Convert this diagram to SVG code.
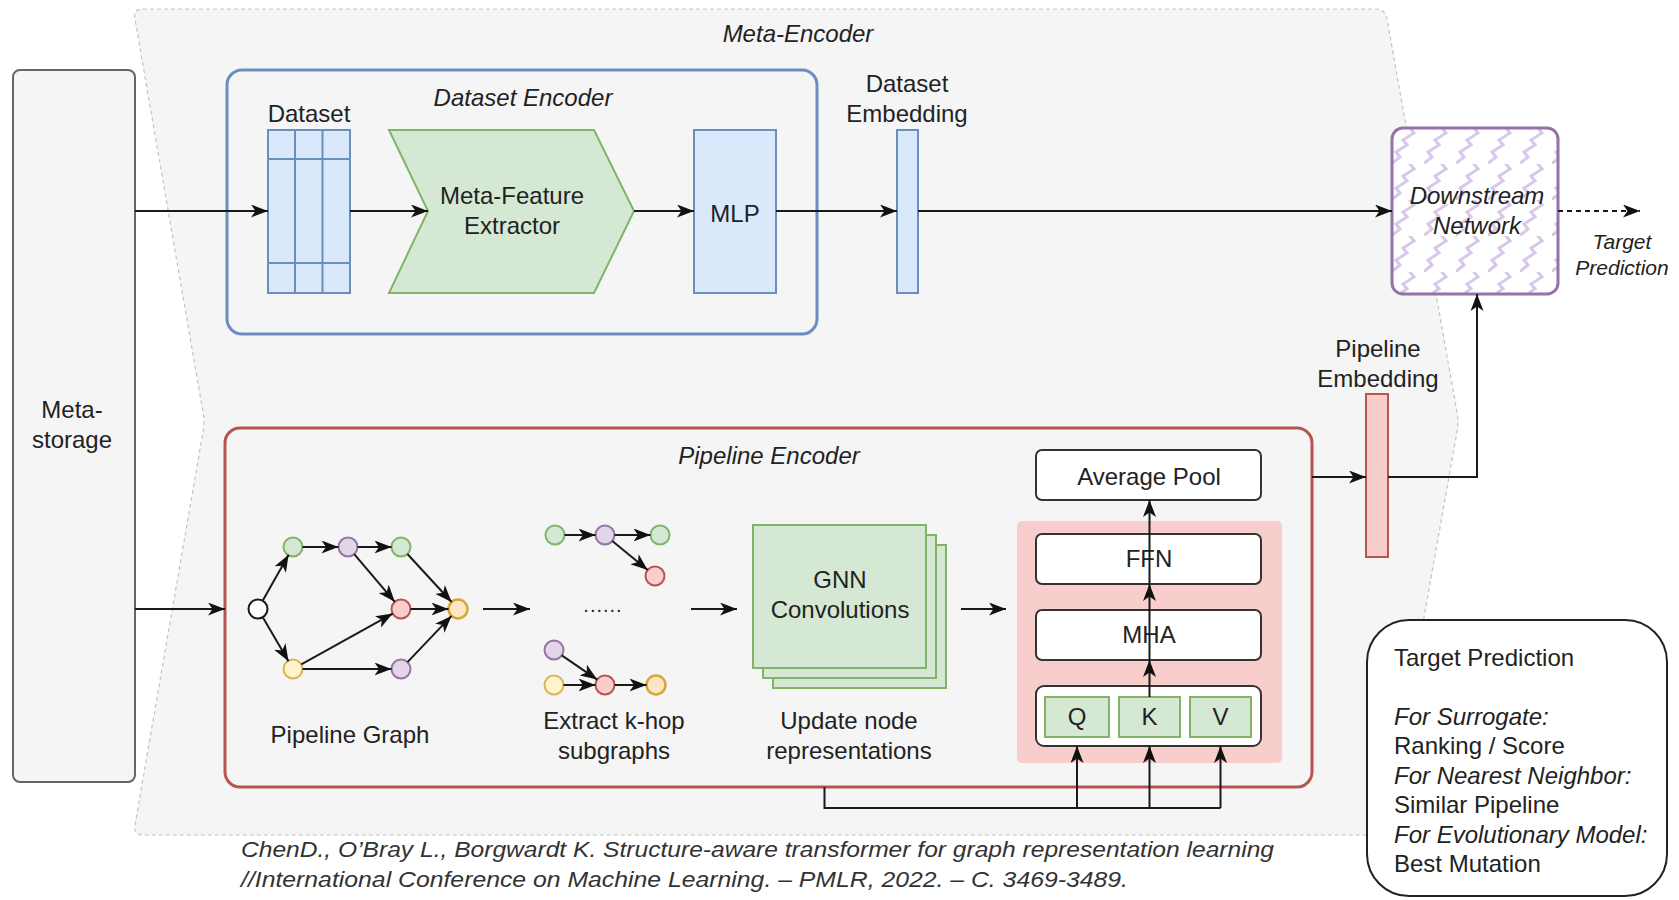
<svg xmlns="http://www.w3.org/2000/svg" width="1679" height="900" viewBox="0 0 1679 900">
<defs>
<style>
text{font-family:"Liberation Sans",Arial,sans-serif;font-size:24px;fill:#222}
.it{font-style:italic}
.mid{text-anchor:middle}
.ln{fill:none;stroke:#1a1a1a;stroke-width:2}
.arr{fill:none;stroke:#1a1a1a;stroke-width:2;marker-end:url(#ah)}
.blue{fill:#dae8fc;stroke:#6c8ebf;stroke-width:2}
.green{fill:#d5e8d4;stroke:#82b366;stroke-width:2}
.red{fill:#f8cecc;stroke:#b85450;stroke-width:2}
.purple{fill:#e1d5e7;stroke:#9673a6;stroke-width:2}
.yellow{fill:#fff2cc;stroke:#d6b656;stroke-width:2}
.endn{fill:#fde6c4;stroke:#d6a63a;stroke-width:2.5}
.whiten{fill:#ffffff;stroke:#1a1a1a;stroke-width:2}
.box{fill:#ffffff;stroke:#333333;stroke-width:2}
</style>
<marker id="ah" markerUnits="userSpaceOnUse" markerWidth="18" markerHeight="13" refX="17" refY="6.5" orient="auto">
<path d="M0,0 L17,6.5 L0,13 L4.5,6.5 Z" fill="#111"/>
</marker>
<pattern id="zz" patternUnits="userSpaceOnUse" width="32" height="36" x="1392" y="128">
<rect width="32" height="36" fill="#ffffff"/>
<path d="M-2,37 L8,29 L4,24 L15,17 L11,12 L22,5 L18,0 L26,-4" fill="none" stroke="#d9c7e8" stroke-width="3"/>
</pattern>
</defs>

<g id="meta-encoder">
<path d="M143,9 H1375 Q1385,9 1387,19 L1457,412 Q1459,422 1457,432 L1387,825 Q1385,835 1375,835 H143 Q133,835 135,825 L203,432 Q205,422 203,412 L135,19 Q133,9 143,9 Z" fill="#f5f5f5" stroke="#c4c4c4" stroke-width="1.2" stroke-dasharray="4,3"/>
<text class="it mid" x="798" y="42">Meta-Encoder</text>
</g>

<g id="meta-storage">
<rect x="13" y="70" width="122" height="712" rx="7" fill="#f5f5f5" stroke="#666666" stroke-width="2"/>
<text class="mid" x="72" y="418" fill="#333">Meta-</text>
<text class="mid" x="72" y="448">storage</text>
</g>

<g id="dataset-encoder">
<rect x="227" y="70" width="590" height="264" rx="15" fill="#f5f5f5" stroke="#6c8ebf" stroke-width="3"/>
<text class="it mid" x="523" y="106">Dataset Encoder</text>
</g>

<g id="dataset">
<text class="mid" x="309" y="122">Dataset</text>
<rect class="blue" x="268" y="130" width="82" height="163"/>
<path d="M295,130 V293 M322.5,130 V293 M268,159 H350 M268,263 H350" fill="none" stroke="#6c8ebf" stroke-width="2"/>
</g>

<g id="meta-feature-extractor">
<path class="green" d="M389,130 H594 L634,211 L594,293 H389 L428,211 Z"/>
<text class="mid" x="512" y="204">Meta-Feature</text>
<text class="mid" x="512" y="234">Extractor</text>
</g>

<g id="mlp">
<rect class="blue" x="694" y="130" width="82" height="163"/>
<text class="mid" x="735" y="222">MLP</text>
</g>

<g id="dataset-embedding">
<text class="mid" x="907" y="92">Dataset</text>
<text class="mid" x="907" y="122">Embedding</text>
<rect class="blue" x="897" y="130" width="21" height="163"/>
</g>

<g id="downstream-network">
<rect x="1392" y="128" width="166" height="166" rx="11" fill="url(#zz)" stroke="#9673a6" stroke-width="3"/>
<text class="it mid" x="1477" y="204">Downstream</text>
<text class="it mid" x="1477" y="234">Network</text>
</g>

<g id="target-label">
<text class="it mid" x="1622" y="249" style="font-size:21px">Target</text>
<text class="it mid" x="1622" y="275" style="font-size:21px">Prediction</text>
</g>

<g id="pipeline-embedding">
<text class="mid" x="1378" y="357">Pipeline</text>
<text class="mid" x="1378" y="387">Embedding</text>
<rect class="red" x="1366" y="394" width="22" height="163"/>
</g>

<g id="pipeline-encoder">
<rect x="225" y="428" width="1087" height="359" rx="15" fill="#f5f5f5" stroke="#b85450" stroke-width="3"/>
<text class="it mid" x="769" y="464">Pipeline Encoder</text>
</g>

<g id="pipeline-graph">
<circle class="whiten" cx="258" cy="609" r="9.5"/>
<circle class="green" cx="293" cy="547" r="9.5"/>
<circle class="purple" cx="348" cy="547" r="9.5"/>
<circle class="green" cx="401" cy="547" r="9.5"/>
<circle class="red" cx="401" cy="609" r="9.5"/>
<circle class="endn" cx="458" cy="609" r="9.5"/>
<circle class="yellow" cx="293" cy="669" r="9.5"/>
<circle class="purple" cx="401" cy="669" r="9.5"/>
<text class="mid" x="350" y="743">Pipeline Graph</text>
</g>

<g id="k-hop-subgraphs">
<circle class="green" cx="555" cy="535" r="9.5"/>
<circle class="purple" cx="605" cy="535" r="9.5"/>
<circle class="green" cx="660" cy="535" r="9.5"/>
<circle class="red" cx="655" cy="576" r="9.5"/>
<text class="mid" x="603" y="612" style="font-size:20px;letter-spacing:1px">......</text>
<circle class="purple" cx="554" cy="650" r="9.5"/>
<circle class="yellow" cx="554" cy="685" r="9.5"/>
<circle class="red" cx="605" cy="685" r="9.5"/>
<circle class="endn" cx="656" cy="685" r="9.5"/>
<text class="mid" x="614" y="729">Extract k-hop</text>
<text class="mid" x="614" y="759">subgraphs</text>
</g>

<g id="gnn-convolutions">
<rect class="green" x="773" y="545" width="173" height="143"/>
<rect class="green" x="763" y="535" width="173" height="143"/>
<rect class="green" x="753" y="525" width="173" height="143"/>
<text class="mid" x="840" y="588">GNN</text>
<text class="mid" x="840" y="618">Convolutions</text>
<text class="mid" x="849" y="729">Update node</text>
<text class="mid" x="849" y="759">representations</text>
</g>

<g id="transformer">
<rect x="1017" y="521" width="265" height="242" rx="5" fill="#f8cecc"/>
</g>
<g id="average-pool">
<rect class="box" x="1036" y="450" width="225" height="50" rx="6"/>
<text class="mid" x="1149" y="485">Average Pool</text>
</g>
<g id="ffn">
<rect class="box" x="1036" y="534" width="225" height="50" rx="6"/>
<text class="mid" x="1149" y="567">FFN</text>
</g>
<g id="mha">
<rect class="box" x="1036" y="610" width="225" height="50" rx="6"/>
<text class="mid" x="1149" y="643">MHA</text>
</g>
<g id="qkv">
<rect class="box" x="1036" y="686" width="225" height="60" rx="8"/>
<rect class="green" x="1045" y="697" width="64" height="40"/>
<rect class="green" x="1119" y="697" width="61" height="40"/>
<rect class="green" x="1190" y="697" width="61" height="40"/>
<text class="mid" x="1077" y="725">Q</text>
<text class="mid" x="1149.5" y="725">K</text>
<text class="mid" x="1220.5" y="725">V</text>
</g>

<g id="target-prediction">
<rect x="1367" y="620" width="300" height="276" rx="42" fill="#ffffff" stroke="#222" stroke-width="2"/>
<text x="1394" y="666">Target Prediction</text>
<text class="it" x="1394" y="725">For Surrogate:</text>
<text x="1394" y="754">Ranking / Score</text>
<text class="it" x="1394" y="784">For Nearest Neighbor:</text>
<text x="1394" y="813">Similar Pipeline</text>
<text class="it" x="1394" y="843">For Evolutionary Model:</text>
<text x="1394" y="872">Best Mutation</text>
</g>

<g id="citation">
<text class="it" x="241" y="857" style="font-size:22px;fill:#333" textLength="1033" lengthAdjust="spacingAndGlyphs">ChenD., O’Bray L., Borgwardt K. Structure-aware transformer for graph representation learning</text>
<text class="it" x="241" y="887" style="font-size:22px;fill:#333" textLength="887" lengthAdjust="spacingAndGlyphs">//International Conference on Machine Learning. – PMLR, 2022. – C. 3469-3489.</text>
</g>

<g id="connectors">
<path class="arr" d="M135,211 H268"/>
<path class="arr" d="M350,211 H428"/>
<path class="arr" d="M634,211 H694"/>
<path class="arr" d="M776,211 H897"/>
<path class="arr" d="M918,211 H1392"/>
<path class="arr" d="M1558,211 H1640" stroke-dasharray="5,4"/>
<path class="arr" d="M135,609 H225"/>
<path class="arr" d="M1312,477 H1366"/>
<path class="arr" d="M1388,477 H1477 V294"/>
<path class="arr" d="M262.4,601.2 L288.6,554.8"/>
<path class="arr" d="M262.5,616.8 L288.5,661.2"/>
<path class="arr" d="M302.5,547 L338.5,547"/>
<path class="arr" d="M357.5,547 L391.5,547"/>
<path class="arr" d="M354.2,554.2 L394.8,601.8"/>
<path class="arr" d="M407.4,554 L451.6,602"/>
<path class="arr" d="M410.5,609 L448.5,609"/>
<path class="arr" d="M301.3,664.4 L392.7,613.6"/>
<path class="arr" d="M302.5,669 L391.5,669"/>
<path class="arr" d="M407.5,662.1 L451.5,615.9"/>
<path class="arr" d="M483,609 H530"/>
<path class="arr" d="M564.5,535 H595.5"/>
<path class="arr" d="M614.5,535 H650.5"/>
<path class="arr" d="M612.3,541 L647.7,570"/>
<path class="arr" d="M561.8,655.4 L597.2,679.6"/>
<path class="arr" d="M563.5,685 H595.5"/>
<path class="arr" d="M614.5,685 H646.5"/>
<path class="arr" d="M691,609 H737"/>
<path class="arr" d="M961,609 H1006"/>
<path class="ln" d="M824.5,787 V808 H1220.5"/>
<path class="arr" d="M1077,808 V746"/>
<path class="arr" d="M1149.5,808 V746"/>
<path class="arr" d="M1220.5,808 V746"/>
<path class="arr" d="M1149.5,697 V660"/>
<path class="arr" d="M1149.5,660 V584"/>
<path class="arr" d="M1149.5,584 V500"/>
</g>
</svg>
